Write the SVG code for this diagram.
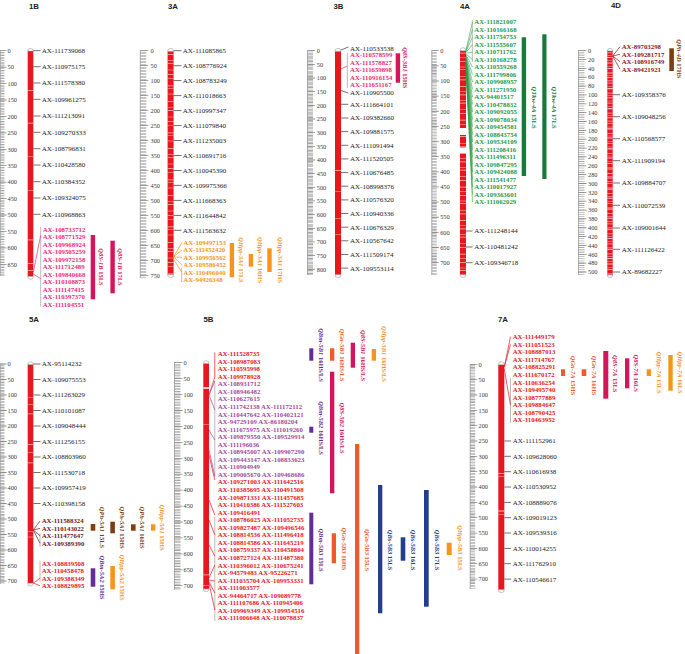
<svg xmlns="http://www.w3.org/2000/svg" width="685" height="654" viewBox="0 0 685 654">
<style>
text{font-family:"Liberation Serif","Times New Roman",serif}
.t{font-family:"Liberation Sans",Arial,sans-serif;font-weight:bold;font-size:7.8px;fill:#222}
.r{font-size:6.3px;fill:#3a3a3a}
.m{font-size:7px;fill:#222}
.b{font-size:6.8px;font-weight:bold}
.q{font-size:6.5px;font-weight:bold;text-anchor:middle}
.q tspan{font-style:italic}
.rb{stroke:#8c8c8c;stroke-width:0.7;fill:none}
.tk{stroke:#8c8c8c;fill:none}
.chr{fill:#E8161E}
.cap{fill:#fff;stroke:#8a8a8a;stroke-width:0.5}
.st{fill:none;stroke:#fff;stroke-opacity:0.75}
.lk{stroke:#333;stroke-width:0.7;fill:none}
.gb{stroke:#aaa;stroke-width:0.8;fill:none}
.pk{fill:#EE2A7B}.cr{fill:#D6145C}.or{fill:#F7941D}.og{fill:#F05A28}.pu{fill:#652D90}.lp{fill:#A24A9E}.nv{fill:#233E8F}.gr{fill:#2A9A48}.gd{fill:#187A3A}.bn{fill:#7B3F12}.mr{fill:#8B1A1A}.dm{fill:#6B2020}.rd{fill:#E8161E}
</style>

<!-- titles -->
<g id="titles">
<text class="t" x="29" y="8.5">1B</text>
<text class="t" x="168" y="8.5">3A</text>
<text class="t" x="333.5" y="8.5">3B</text>
<text class="t" x="460" y="8.5">4A</text>
<text class="t" x="611" y="8">4D</text>
<text class="t" x="29" y="321.5">5A</text>
<text class="t" x="203.5" y="321.5">5B</text>
<text class="t" x="498" y="321.5">7A</text>
</g>

<!-- rulers -->
<g id="ruler-1B">
<line class="rb" x1="0.3" y1="50.3" x2="0.3" y2="276"/>
<line class="tk" x1="2.4" y1="50.4" x2="2.4" y2="276" stroke-width="4.2" stroke-dasharray="0.6 1.043"/>
<line class="tk" x1="3.4" y1="50.3" x2="3.4" y2="276" stroke-width="6.2" stroke-dasharray="0.8 15.63"/>
<g class="r"><text x="7.5" y="52.9">0</text><text x="7.5" y="69.3">50</text><text x="7.5" y="85.8">100</text><text x="7.5" y="102.2">150</text><text x="7.5" y="118.6">200</text><text x="7.5" y="135.1">250</text><text x="7.5" y="151.5">300</text><text x="7.5" y="167.9">350</text><text x="7.5" y="184.3">400</text><text x="7.5" y="200.8">450</text><text x="7.5" y="217.2">500</text><text x="7.5" y="233.6">550</text><text x="7.5" y="250.1">600</text><text x="7.5" y="266.5">650</text></g>
</g>
<g id="ruler-3A">
<line class="rb" x1="140.3" y1="50.3" x2="140.3" y2="278"/>
<line class="tk" x1="143.3" y1="50.4" x2="143.3" y2="278" stroke-width="6" stroke-dasharray="0.6 0.9"/>
<line class="tk" x1="144.3" y1="50.3" x2="144.3" y2="278" stroke-width="8" stroke-dasharray="0.8 14.2"/>
<g class="r"><text x="150.5" y="52.9">0</text><text x="150.5" y="67.9">50</text><text x="150.5" y="82.9">100</text><text x="150.5" y="97.9">150</text><text x="150.5" y="112.9">200</text><text x="150.5" y="127.9">250</text><text x="150.5" y="142.9">300</text><text x="150.5" y="157.9">350</text><text x="150.5" y="172.9">400</text><text x="150.5" y="187.9">450</text><text x="150.5" y="202.9">500</text><text x="150.5" y="217.9">550</text><text x="150.5" y="232.9">600</text><text x="150.5" y="247.9">650</text><text x="150.5" y="262.9">700</text><text x="150.5" y="277.9">750</text></g>
</g>
<g id="ruler-3B">
<line class="rb" x1="307.5" y1="50.3" x2="307.5" y2="275"/>
<line class="tk" x1="310.25" y1="50.4" x2="310.25" y2="275" stroke-width="5.5" stroke-dasharray="0.6 0.766"/>
<line class="tk" x1="311.25" y1="50.3" x2="311.25" y2="275" stroke-width="7.5" stroke-dasharray="0.8 12.86"/>
<g class="r"><text x="316.8" y="52.9">0</text><text x="316.8" y="66.6">50</text><text x="316.8" y="80.2">100</text><text x="316.8" y="93.9">150</text><text x="316.8" y="107.5">200</text><text x="316.8" y="121.2">250</text><text x="316.8" y="134.9">300</text><text x="316.8" y="148.5">350</text><text x="316.8" y="162.2">400</text><text x="316.8" y="175.8">450</text><text x="316.8" y="189.5">500</text><text x="316.8" y="203.2">550</text><text x="316.8" y="216.8">600</text><text x="316.8" y="230.5">650</text><text x="316.8" y="244.1">700</text><text x="316.8" y="257.8">750</text><text x="316.8" y="271.5">800</text></g>
</g>
<g id="ruler-4A">
<line class="rb" x1="431.8" y1="50.3" x2="431.8" y2="275"/>
<line class="tk" x1="434.3" y1="50.4" x2="434.3" y2="275" stroke-width="5" stroke-dasharray="0.6 0.914"/>
<line class="tk" x1="435.3" y1="50.3" x2="435.3" y2="275" stroke-width="7" stroke-dasharray="0.8 14.34"/>
<g class="r"><text x="440.2" y="52.9">0</text><text x="440.2" y="68">50</text><text x="440.2" y="83.2">100</text><text x="440.2" y="98.3">150</text><text x="440.2" y="113.5">200</text><text x="440.2" y="128.6">250</text><text x="440.2" y="143.7">300</text><text x="440.2" y="158.9">350</text><text x="440.2" y="174">400</text><text x="440.2" y="189.2">450</text><text x="440.2" y="204.3">500</text><text x="440.2" y="219.4">550</text><text x="440.2" y="234.6">600</text><text x="440.2" y="249.7">650</text><text x="440.2" y="264.9">700</text></g>
</g>
<g id="ruler-4D">
<line class="rb" x1="578.5" y1="50.3" x2="578.5" y2="275"/>
<line class="tk" x1="581.5" y1="50.4" x2="581.5" y2="275" stroke-width="6" stroke-dasharray="0.6 1.613"/>
<line class="tk" x1="582.5" y1="50.3" x2="582.5" y2="275" stroke-width="8" stroke-dasharray="0.8 8.052"/>
<g class="r"><text x="588" y="52.9">0</text><text x="588" y="61.75">20</text><text x="588" y="70.6">40</text><text x="588" y="79.46">60</text><text x="588" y="88.31">80</text><text x="588" y="97.16">100</text><text x="588" y="106.01">120</text><text x="588" y="114.86">140</text><text x="588" y="123.72">160</text><text x="588" y="132.57">180</text><text x="588" y="141.42">200</text><text x="588" y="150.27">220</text><text x="588" y="159.12">240</text><text x="588" y="167.98">260</text><text x="588" y="176.83">280</text><text x="588" y="185.68">300</text><text x="588" y="194.53">320</text><text x="588" y="203.38">340</text><text x="588" y="212.24">360</text><text x="588" y="221.09">380</text><text x="588" y="229.94">400</text><text x="588" y="238.79">420</text><text x="588" y="247.64">440</text><text x="588" y="256.5">460</text><text x="588" y="265.35">480</text><text x="588" y="274.2">500</text></g>
</g>
<g id="ruler-5A">
<line class="rb" x1="0.3" y1="363.6" x2="0.3" y2="584"/>
<line class="tk" x1="2.4" y1="363.7" x2="2.4" y2="584" stroke-width="4.2" stroke-dasharray="0.6 0.95"/>
<line class="tk" x1="3.4" y1="363.6" x2="3.4" y2="584" stroke-width="6.2" stroke-dasharray="0.8 14.7"/>
<g class="r"><text x="7.5" y="366.2">0</text><text x="7.5" y="381.7">50</text><text x="7.5" y="397.2">100</text><text x="7.5" y="412.7">150</text><text x="7.5" y="428.2">200</text><text x="7.5" y="443.7">250</text><text x="7.5" y="459.2">300</text><text x="7.5" y="474.7">350</text><text x="7.5" y="490.2">400</text><text x="7.5" y="505.7">450</text><text x="7.5" y="521.2">500</text><text x="7.5" y="536.7">550</text><text x="7.5" y="552.2">600</text><text x="7.5" y="567.7">650</text><text x="7.5" y="583.2">700</text></g>
</g>
<g id="ruler-5B">
<line class="rb" x1="174.5" y1="362.3" x2="174.5" y2="590"/>
<line class="tk" x1="177.5" y1="362.4" x2="177.5" y2="590" stroke-width="6" stroke-dasharray="0.6 0.993"/>
<line class="tk" x1="178.5" y1="362.3" x2="178.5" y2="590" stroke-width="8" stroke-dasharray="0.8 15.13"/>
<g class="r"><text x="183.5" y="364.9">0</text><text x="183.5" y="380.8">50</text><text x="183.5" y="396.8">100</text><text x="183.5" y="412.7">150</text><text x="183.5" y="428.6">200</text><text x="183.5" y="444.6">250</text><text x="183.5" y="460.5">300</text><text x="183.5" y="476.4">350</text><text x="183.5" y="492.3">400</text><text x="183.5" y="508.3">450</text><text x="183.5" y="524.2">500</text><text x="183.5" y="540.1">550</text><text x="183.5" y="556.1">600</text><text x="183.5" y="572">650</text><text x="183.5" y="587.9">700</text></g>
</g>
<g id="ruler-7A">
<line class="rb" x1="470.2" y1="363.9" x2="470.2" y2="589"/>
<line class="tk" x1="472.7" y1="364" x2="472.7" y2="589" stroke-width="5" stroke-dasharray="0.6 0.934"/>
<line class="tk" x1="473.7" y1="363.9" x2="473.7" y2="589" stroke-width="7" stroke-dasharray="0.8 14.54"/>
<g class="r"><text x="478.5" y="366.5">0</text><text x="478.5" y="381.8">50</text><text x="478.5" y="397.2">100</text><text x="478.5" y="412.5">150</text><text x="478.5" y="427.9">200</text><text x="478.5" y="443.2">250</text><text x="478.5" y="458.5">300</text><text x="478.5" y="473.9">350</text><text x="478.5" y="489.2">400</text><text x="478.5" y="504.6">450</text><text x="478.5" y="519.9">500</text><text x="478.5" y="535.2">550</text><text x="478.5" y="550.6">600</text><text x="478.5" y="565.9">650</text><text x="478.5" y="581.3">700</text></g>
</g>

<!-- chromosomes -->
<g id="chr-1B">
<rect class="chr" x="27.7" y="51.1" width="5.6" height="225.4"/>
<line class="st" x1="30.5" y1="51.1" x2="30.5" y2="276.5" stroke-width="5.6" stroke-dasharray="0 39 0.7 32 0.7 33 0.5 33 0.6 49 0.7 23 0.8 6 0.7 300"/>
<path class="cap" d="M27.7 51.1a2.8 2.8 0 0 1 5.6 0z"/>
<path class="cap" d="M27.7 276.5a2.8 2.8 0 0 0 5.6 0z"/>
</g>
<g id="chr-3A">
<rect class="chr" x="167.6" y="51.3" width="6" height="223.4"/>
<line class="st" x1="170.6" y1="51.3" x2="170.6" y2="274.7" stroke-width="6" stroke-dasharray="0 3 0.6 5 0.5 2.5 0.8 6 0.5 4 0.7 3 0.5 7 0.8 2 0.5 5 0.6 4"/>
<path class="cap" d="M167.6 51.3a3 3 0 0 1 6 0z"/>
<path class="cap" d="M167.6 274.7a3 3 0 0 0 6 0z"/>
</g>
<g id="chr-3B">
<rect class="chr" x="335" y="51.3" width="6" height="223.4"/>
<line class="st" x1="338" y1="51.3" x2="338" y2="274.7" stroke-width="6" stroke-dasharray="0 119 0.6 20 0.5 27 0.6 15 0.5 300"/>
<path class="cap" d="M335 51.3a3 3 0 0 1 6 0z"/>
<path class="cap" d="M335 274.7a3 3 0 0 0 6 0z"/>
</g>
<g id="chr-4A">
<rect class="chr" x="460" y="50.7" width="6" height="224"/>
<line class="st" x1="463" y1="50.7" x2="463" y2="274.7" stroke-width="6" stroke-dasharray="0 2 0.7 4 0.5 3 0.9 5 0.5 2 0.6 6 0.5 3 0.8 4"/>
<rect x="460" y="128" width="6" height="7" fill="#fff"/>
<rect x="460" y="147.5" width="6" height="5.5" fill="#fff"/>
<path class="cap" d="M460 50.7a3 3 0 0 1 6 0z"/>
<path class="cap" d="M460 274.7a3 3 0 0 0 6 0z"/>
</g>
<g id="chr-4D">
<rect class="chr" x="607.3" y="51" width="5.4" height="224"/>
<line x1="610" y1="51" x2="610" y2="275" stroke="#fde" stroke-opacity="0.8" stroke-width="5.4" stroke-dasharray="0 1.5 0.8 2 0.5 1.2 1 2.5 0.6 1.5 0.8 3 0.5 1 1.2 2"/>
<path class="cap" d="M607.3 51a2.7 2.7 0 0 1 5.4 0z"/>
<path class="cap" d="M607.3 275a2.7 2.7 0 0 0 5.4 0z"/>
</g>
<g id="chr-5A">
<rect class="chr" x="27.7" y="364.5" width="5.6" height="218.7"/>
<line class="st" x1="30.5" y1="364.5" x2="30.5" y2="583.2" stroke-width="5.6" stroke-dasharray="0 33 0.6 6 0.5 9 0.7 30 0.6 7 0.5 10 0.8 68 0.6 5 0.5 400"/>
<path class="cap" d="M27.7 364.5a2.8 2.8 0 0 1 5.6 0z"/>
<path class="cap" d="M27.7 583.2a2.8 2.8 0 0 0 5.6 0z"/>
</g>
<g id="chr-5B">
<rect class="chr" x="203.3" y="363.5" width="5.7" height="225.4"/>
<line class="st" x1="206.15" y1="363.5" x2="206.15" y2="588.9" stroke-width="5.7" stroke-dasharray="0 23.5 2 35 0.6 150 0.6 10 0.6 300"/>
<path class="cap" d="M203.3 363.5a2.85 2.85 0 0 1 5.7 0z"/>
<path class="cap" d="M203.3 588.9a2.85 2.85 0 0 0 5.7 0z"/>
</g>
<g id="chr-7A">
<rect class="chr" x="498.3" y="364.7" width="6" height="225"/>
<line class="st" x1="501.3" y1="364.7" x2="501.3" y2="589.7" stroke-width="6" stroke-dasharray="0 108.5 0.8 2 0.6 34 0.8 2.5 0.6 300"/>
<path class="cap" d="M498.3 364.7a3 3 0 0 1 6 0z"/>
<path class="cap" d="M498.3 589.7a3 3 0 0 0 6 0z"/>
</g>

<!-- connectors -->
<g id="connectors">
<path class="lk" d="M33.3 50.7H40.5M33.3 66.7H40.5M33.3 83H40.5M33.3 99.3H40.5M33.3 116H40.5M33.3 132.3H40.5M33.3 148.7H40.5M33.3 165H40.5M33.3 181.7H40.5M33.3 198H40.5M33.3 214.3H40.5"/>
<path class="gb" d="M40.7 226.7V306.7"/>
<path d="M33.3 272L40.7 235.3M33.3 274L40.7 278.7" stroke="#EE2A7B" stroke-width="0.7" fill="none"/>

<path class="lk" d="M173.6 50.7H181.5M173.6 65.7H181.5M173.6 80.6H181.5M173.6 95.6H181.5M173.6 110.6H181.5M173.6 125.6H181.5M173.6 140.5H181.5M173.6 155.5H181.5M173.6 170.5H181.5M173.6 185.4H181.5M173.6 200.4H181.5M173.6 215.4H181.5M173.6 230.3H181.5"/>
<path class="gb" d="M181.7 268V282"/>
<path d="M173.6 257L182 242.3M173.6 257L182 249.8M173.6 257L182 257.3M173.6 257L182 264.8M173.6 259L181.7 272.3" stroke="#F7941D" stroke-width="0.7" fill="none"/>

<path class="lk" d="M341 50L348.3 47M341 90.5L348.3 93M341 104.3H348.3M341 118H348.3M341 131.6H348.3M341 145.3H348.3M341 158.9H348.3M341 172.6H348.3M341 186.2H348.3M341 199.9H348.3M341 213.5H348.3M341 227.2H348.3M341 240.8H348.3M341 254.5H348.3M341 268.1H348.3"/>
<path class="gb" d="M347.3 53V88"/>
<path d="M341 69L347.3 66" stroke="#EE2A7B" stroke-width="0.7" fill="none"/>

<path class="gb" d="M472.3 20V62"/>
<path d="M466 50L472.5 22M466 50.8L472.5 29.5M466 51.6L472.5 37M466 52.4L472.5 44.5M466 53.2L472.5 52M466 54L472.5 59.5M466 54.8L472.5 67M466 55.6L472.5 74.5M466 56.4L472.5 82M466 57.2L472.5 89.5M466 58L472.5 97M466 58.8L472.5 104.5M466 59.6L472.5 112M466 60.4L472.5 119.5M466 61.2L472.5 127M466 62L472.5 134.5M466 62.8L472.5 142M466 63.6L472.5 149.5M466 64.4L472.5 157M466 65.2L472.5 164.5M466 66L472.5 172M466 66.8L472.5 179.5M466 67.6L472.5 187M466 68.4L472.5 194.5M466 69.2L472.5 202" stroke="#2A9A48" stroke-width="0.55" fill="none"/>
<path class="lk" d="M466 231H472.5M466 247H472.5M466 262.7H472.5"/>

<path d="M612.7 56L620 46.7M612.7 56L620 54.3M612.7 56L620 61.7M612.7 56L620 69.3" stroke="#8B1A1A" stroke-width="0.7" fill="none"/>
<path class="lk" d="M612.7 94.7H620M612.7 116.7H620M612.7 138.7H620M612.7 160.7H620M612.7 183H620M612.7 205.3H620M612.7 228H620M612.7 249.3H620M612.7 272H620"/>

<path class="lk" d="M33.3 364H40.5M33.3 379.5H40.5M33.3 395H40.5M33.3 410.5H40.5M33.3 426H40.5M33.3 441.5H40.5M33.3 457H40.5M33.3 472.5H40.5M33.3 488H40.5M33.3 503.5H40.5"/>
<path class="gb" d="M40 533V547M40 560.7V581.7"/>
<path d="M33.3 530L40 521M33.3 530L40 528.4M33.3 530L40 535.8M33.3 530L40 543.2" stroke="#6B2020" stroke-width="0.7" fill="none"/>
<path d="M33.3 583L40 578.3M33.3 583L40 585.7" stroke="#E8161E" stroke-width="0.7" fill="none"/>

<path class="gb" d="M214.8 381V477M214.8 517V621"/>
<path d="M214.8 352.5V377L209 395" stroke="#E8161E" stroke-width="0.7" fill="none"/>
<path d="M209 395L214.8 381M209 395L214.8 410M209 430L214.8 440M209 450L214.8 476" stroke="#A24A9E" stroke-width="0.7" fill="none"/>
<path d="M209 455L214.8 480M209 500L214.8 515M209 520L214.8 535M209 545L214.8 556M209 578L214.8 565M209 580L214.8 581M209 582L214.8 593M209 583L214.8 610" stroke="#E8161E" stroke-width="0.7" fill="none"/>

<path class="gb" d="M510.5 378V423"/>
<path d="M504.3 367L510.5 336.7M504.3 367L510.5 344.3M504.3 369L510.5 405" stroke="#E8161E" stroke-width="0.7" fill="none"/>
<path class="lk" d="M504.3 441H511M504.3 456.3H511M504.3 471.7H511M504.3 487H511M504.3 502.4H511M504.3 517.7H511M504.3 533H511M504.3 548.4H511M504.3 563.7H511M504.3 579.1H511"/>
</g>

<!-- marker labels -->
<g id="markers-1B">
<g class="m"><text x="41.7" y="53.1">AX-111739068</text><text x="41.7" y="69.1">AX-110975175</text><text x="41.7" y="85.4">AX-111578380</text><text x="41.7" y="101.7">AX-109961275</text><text x="41.7" y="118.4">AX-111213091</text><text x="41.7" y="134.7">AX-109270333</text><text x="41.7" y="151.1">AX-108796831</text><text x="41.7" y="167.4">AX-110428580</text><text x="41.7" y="184.1">AX-110384352</text><text x="41.7" y="200.4">AX-109324075</text><text x="41.7" y="216.7">AX-110968863</text></g>
<g class="b pk"><text x="42.7" y="231.7">AX-108733712</text><text x="42.7" y="239.2">AX-108771529</text><text x="42.7" y="246.7">AX-109968924</text><text x="42.7" y="254.2">AX-109505259</text><text x="42.7" y="261.7">AX-109972158</text><text x="42.7" y="269.2">AX-111712489</text><text x="42.7" y="276.7">AX-109840668</text><text x="42.7" y="284.2">AX-110108873</text><text x="42.7" y="291.7">AX-111147415</text><text x="42.7" y="299.2">AX-110397370</text><text x="42.7" y="306.7">AX-111104551</text></g>
</g>
<g id="markers-3A">
<g class="m"><text x="182.7" y="53.1">AX-111085865</text><text x="182.7" y="68.1">AX-108776924</text><text x="182.7" y="83">AX-108783249</text><text x="182.7" y="98">AX-111018663</text><text x="182.7" y="113">AX-110997347</text><text x="182.7" y="128">AX-111079840</text><text x="182.7" y="142.9">AX-111235003</text><text x="182.7" y="157.9">AX-110691716</text><text x="182.7" y="172.9">AX-110045390</text><text x="182.7" y="187.8">AX-109975366</text><text x="182.7" y="202.8">AX-111668363</text><text x="182.7" y="217.8">AX-111644842</text><text x="182.7" y="232.7">AX-111563632</text></g>
<g class="b or"><text x="183.3" y="244.7">AX-109497153</text><text x="183.3" y="252.2">AX-111452420</text><text x="183.3" y="259.7">AX-109956562</text><text x="183.3" y="267.2">AX-109586452</text><text x="183.3" y="274.7">AX-110496040</text><text x="183.3" y="282.2">AX-94926348</text></g>
</g>
<g id="markers-3B">
<g class="m"><text x="350" y="50.7">AX-110533538</text><text x="350" y="94.7">AX-110905500</text><text x="350" y="106.7">AX-111664101</text><text x="350" y="120.4">AX-109382660</text><text x="350" y="134">AX-109881575</text><text x="350" y="147.7">AX-111091494</text><text x="350" y="161.3">AX-111520505</text><text x="350" y="175">AX-110676485</text><text x="350" y="188.6">AX-108998376</text><text x="350" y="202.3">AX-110576320</text><text x="350" y="215.9">AX-110940336</text><text x="350" y="229.6">AX-110676329</text><text x="350" y="243.2">AX-110567642</text><text x="350" y="256.9">AX-111509174</text><text x="350" y="270.5">AX-109553114</text></g>
<g class="b pk"><text x="350" y="57.4">AX-110578599</text><text x="350" y="64.9">AX-111578827</text><text x="350" y="72.4">AX-111659898</text><text x="350" y="79.9">AX-110916154</text><text x="350" y="87.4">AX-111651167</text></g>
</g>
<g id="markers-4A">
<g class="b gr"><text x="474.3" y="24.4">AX-111821007</text><text x="474.3" y="31.9">AX-110166168</text><text x="474.3" y="39.4">AX-111754753</text><text x="474.3" y="46.9">AX-111555607</text><text x="474.3" y="54.4">AX-110711762</text><text x="474.3" y="61.9">AX-110168278</text><text x="474.3" y="69.4">AX-110559268</text><text x="474.3" y="76.9">AX-111799806</text><text x="474.3" y="84.4">AX-109908957</text><text x="474.3" y="91.9">AX-111271950</text><text x="474.3" y="99.4">AX-94401517</text><text x="474.3" y="106.9">AX-110478832</text><text x="474.3" y="114.4">AX-109092055</text><text x="474.3" y="121.9">AX-109078034</text><text x="474.3" y="129.4">AX-109454581</text><text x="474.3" y="136.9">AX-108843754</text><text x="474.3" y="144.4">AX-109534109</text><text x="474.3" y="151.9">AX-111208416</text><text x="474.3" y="159.4">AX-111496311</text><text x="474.3" y="166.9">AX-109847295</text><text x="474.3" y="174.4">AX-109424088</text><text x="474.3" y="181.9">AX-111541477</text><text x="474.3" y="189.4">AX-110017927</text><text x="474.3" y="196.9">AX-109363601</text><text x="474.3" y="204.4">AX-111062029</text></g>
<g class="m"><text x="474.3" y="233.4">AX-111248144</text><text x="474.3" y="249.4">AX-110481242</text><text x="474.3" y="265.1">AX-109346718</text></g>
</g>
<g id="markers-4D">
<g class="b mr"><text x="621.7" y="49.1">AX-89703298</text><text x="621.7" y="56.7">AX-109281717</text><text x="621.7" y="64.1">AX-108916749</text><text x="621.7" y="71.7">AX-89421921</text></g>
<g class="m"><text x="621.7" y="97.1">AX-109358376</text><text x="621.7" y="119.1">AX-109048256</text><text x="621.7" y="141.1">AX-110568577</text><text x="621.7" y="163.1">AX-111909194</text><text x="621.7" y="185.4">AX-109884707</text><text x="621.7" y="207.7">AX-110072539</text><text x="621.7" y="230.4">AX-109001644</text><text x="621.7" y="251.7">AX-111126422</text><text x="621.7" y="274.4">AX-89682227</text></g>
</g>
<g id="markers-5A">
<g class="m"><text x="41.7" y="366.4">AX-95114232</text><text x="41.7" y="381.9">AX-109075553</text><text x="41.7" y="397.4">AX-111263029</text><text x="41.7" y="412.9">AX-110101087</text><text x="41.7" y="428.4">AX-109048444</text><text x="41.7" y="443.9">AX-111256155</text><text x="41.7" y="459.4">AX-108803960</text><text x="41.7" y="474.9">AX-111530718</text><text x="41.7" y="490.4">AX-109957419</text><text x="41.7" y="505.9">AX-110398158</text></g>
<g class="b dm"><text x="41.7" y="523.4">AX-111588324</text><text x="41.7" y="530.8">AX-110143022</text><text x="41.7" y="538.2">AX-111477647</text><text x="41.7" y="545.6">AX-109389390</text></g>
<g class="b rd"><text x="41.7" y="565.7">AX-108839508</text><text x="41.7" y="573.1">AX-110458478</text><text x="41.7" y="580.7">AX-109388349</text><text x="41.7" y="588.1">AX-108829895</text></g>
</g>
<g id="markers-5B">
<g class="b rd"><text x="217.7" y="356.1">AX-111528735</text><text x="217.7" y="363.65">AX-108987083</text><text x="217.7" y="371.2">AX-110595998</text><text x="217.7" y="378.75">AX-109978928</text></g>
<g class="b lp"><text x="217.7" y="386.3">AX-108931712</text><text x="217.7" y="393.85">AX-108946482</text><text x="217.7" y="401.4">AX-110627615</text><text x="217.7" y="408.95">AX-111742138 AX-111172112</text><text x="217.7" y="416.5">AX-110447642 AX-110402121</text><text x="217.7" y="424.05">AX-94729169 AX-86180204</text><text x="217.7" y="431.6">AX-111675975 AX-111019260</text><text x="217.7" y="439.15">AX-109879550 AX-109529914</text><text x="217.7" y="446.7">AX-111196036</text><text x="217.7" y="454.25">AX-108945007 AX-109907290</text><text x="217.7" y="461.8">AX-109443147 AX-108833623</text><text x="217.7" y="469.35">AX-110904949</text><text x="217.7" y="476.9">AX-109005670 AX-109468686</text></g>
<g class="b rd"><text x="217.7" y="484.45">AX-109271003 AX-111642516</text><text x="217.7" y="492">AX-110385695 AX-110491508</text><text x="217.7" y="499.55">AX-109871331 AX-111457685</text><text x="217.7" y="507.1">AX-110410386 AX-111527603</text><text x="217.7" y="514.65">AX-109416491</text><text x="217.7" y="522.2">AX-108786025 AX-111052735</text><text x="217.7" y="529.75">AX-109827487 AX-109496546</text><text x="217.7" y="537.3">AX-108814536 AX-111496418</text><text x="217.7" y="544.85">AX-108814586 AX-111645219</text><text x="217.7" y="552.4">AX-108759337 AX-110458804</text><text x="217.7" y="559.95">AX-108727124 AX-111487380</text><text x="217.7" y="567.5">AX-110396012 AX-110675241</text><text x="217.7" y="575.05">AX-94579483 AX-95226271</text><text x="217.7" y="582.6">AX-111035704 AX-109953331</text><text x="217.7" y="590.15">AX-111003577</text><text x="217.7" y="597.7">AX-94464717 AX-109089778</text><text x="217.7" y="605.25">AX-111107686 AX-110945406</text><text x="217.7" y="612.8">AX-109969349 AX-109954516</text><text x="217.7" y="620.35">AX-111006648 AX-110078837</text></g>
</g>
<g id="markers-7A">
<g class="b rd"><text x="512.7" y="339.1">AX-111449179</text><text x="512.7" y="346.7">AX-111051523</text><text x="512.7" y="354.2">AX-108887013</text><text x="512.7" y="361.8">AX-111714767</text><text x="512.7" y="369.4">AX-108825291</text><text x="512.7" y="376.9">AX-111670172</text><text x="512.7" y="384.5">AX-110636254</text><text x="512.7" y="392.1">AX-109495740</text><text x="512.7" y="399.7">AX-108777889</text><text x="512.7" y="407.2">AX-109884647</text><text x="512.7" y="414.8">AX-108790425</text><text x="512.7" y="422.4">AX-110463952</text></g>
<g class="m"><text x="512.7" y="443.4">AX-111152961</text><text x="512.7" y="458.7">AX-109628060</text><text x="512.7" y="474.1">AX-110616938</text><text x="512.7" y="489.4">AX-110530952</text><text x="512.7" y="504.8">AX-108889076</text><text x="512.7" y="520.1">AX-109019123</text><text x="512.7" y="535.4">AX-109539316</text><text x="512.7" y="550.8">AX-110014255</text><text x="512.7" y="566.1">AX-111762910</text><text x="512.7" y="581.5">AX-110546617</text></g>
</g>

<!-- QTL -->
<g id="qtl-1B">
<g id="Q8S-1B-15LS" class="cr"><rect x="90.7" y="235" width="4.4" height="64.3"/><text class="q" transform="translate(99.3 267) rotate(90)"><tspan>Q8S-1B</tspan> 15LS</text></g>
<g id="Q8S-1B-17LS" class="cr"><rect x="110.4" y="240.7" width="4.4" height="52.6"/><text class="q" transform="translate(117.8 267) rotate(90)"><tspan>Q8S-1B</tspan> 17LS</text></g>
</g>
<g id="qtl-3A">
<g id="QHpp-3A1-17LS" class="or"><rect x="229.7" y="243" width="4.4" height="34.3"/><text class="q" transform="translate(239.3 260) rotate(90)"><tspan>QHpp-3A1</tspan> 17LS</text></g>
<g id="QHpp-3A1-16HS" class="or"><rect x="248.7" y="254" width="4.4" height="12.7"/><text class="q" transform="translate(258.3 260) rotate(90)"><tspan>QHpp-3A1</tspan> 16HS</text></g>
<g id="QHpp-3A1-17HS" class="or"><rect x="267.3" y="248.3" width="4.4" height="23.7"/><text class="q" transform="translate(277.5 260) rotate(90)"><tspan>QHpp-3A1</tspan> 17HS</text></g>
</g>
<g id="qtl-3B">
<g id="Q8S-3B1-15HS" class="cr"><rect x="395.7" y="53.3" width="4.4" height="29.4"/><text class="q" transform="translate(403.2 67.8) rotate(90)"><tspan>Q8S-3B1</tspan> 15HS</text></g>
</g>
<g id="qtl-4A">
<g id="QTkw-4A-15LS" class="gd"><rect x="521.7" y="37.3" width="4.4" height="138.7"/><text class="q" transform="translate(531.5 107.5) rotate(90)"><tspan>QTkw-4A</tspan> 15LS</text></g>
<g id="QTkw-4A-17LS" class="gd"><rect x="542.3" y="34.3" width="4.2" height="144.7"/><text class="q" transform="translate(552.2 107.5) rotate(90)"><tspan>QTkw-4A</tspan> 17LS</text></g>
</g>
<g id="qtl-4D">
<g id="QPh-4D-17HS" class="bn"><rect x="669.3" y="48.3" width="4.6" height="22.7"/><text class="q" transform="translate(677.2 58.8) rotate(90)"><tspan>QPh-4D</tspan> 17HS</text></g>
</g>
<g id="qtl-5A">
<g id="QPh-5A1-15LS" class="bn"><rect x="90.7" y="524" width="4.6" height="6.7"/><text class="q" transform="translate(99.6 527.5) rotate(90)"><tspan>QPh-5A1</tspan> 15LS</text></g>
<g id="QPh-5A1-15HS" class="bn"><rect x="110.3" y="521.7" width="4.6" height="11.6"/><text class="q" transform="translate(119.6 527.5) rotate(90)"><tspan>QPh-5A1</tspan> 15HS</text></g>
<g id="QPh-5A1-16HS" class="bn"><rect x="131" y="524.3" width="4.6" height="6.4"/><text class="q" transform="translate(140.4 527.5) rotate(90)"><tspan>QPh-5A1</tspan> 16HS</text></g>
<g id="QHpp-5A1-15HS" class="or"><rect x="151" y="524.3" width="4.4" height="6.4"/><text class="q" transform="translate(160.2 527.5) rotate(90)"><tspan>QHpp-5A1</tspan> 15HS</text></g>
<g id="QBm-5A2-15HS" class="pu"><rect x="90.7" y="568.3" width="4.6" height="18.4"/><text class="q" transform="translate(99.6 577.5) rotate(90)"><tspan>QBm-5A2</tspan> 15HS</text></g>
<g id="QHpp-5A2-15HS" class="or"><rect x="110.3" y="566" width="4.6" height="23.3"/><text class="q" transform="translate(120 577.5) rotate(90)"><tspan>QHpp-5A2</tspan> 15HS</text></g>
</g>
<g id="qtl-5B">
<g id="QBm-5B1" class="pu"><rect x="309.3" y="348.3" width="4" height="12.4"/><text class="q" transform="translate(318.8 355) rotate(90)"><tspan>QBm-5B1</tspan> 16HS/LS</text></g>
<g id="QGn-5B1" class="og"><rect x="330" y="348.3" width="4.3" height="12.4"/><text class="q" transform="translate(339.8 355) rotate(90)"><tspan>QGn-5B1</tspan> 16HS/LS</text></g>
<g id="Q8S-5B1" class="cr"><rect x="350.7" y="342.7" width="4.3" height="25"/><text class="q" transform="translate(360.5 355.5) rotate(90)"><tspan>Q8S-5B1</tspan> 16HS/LS</text></g>
<g id="QHpp-5B1" class="or"><rect x="371.7" y="349" width="4.3" height="11.7"/><text class="q" transform="translate(381.8 354) rotate(90)"><tspan>QHpp-5B1</tspan> 16HS/LS</text></g>
<g id="QBm-5B2" class="pu"><rect x="309.3" y="426.7" width="4" height="6"/><text class="q" transform="translate(318.8 428) rotate(90)"><tspan>QBm-5B2</tspan> 16HS/LS</text></g>
<g id="Q8S-5B2" class="cr"><rect x="330" y="371.7" width="4.3" height="121.6"/><text class="q" transform="translate(339.8 428) rotate(90)"><tspan>Q8S-5B2</tspan> 16HS/LS</text></g>
<g id="QBm-5B3-15LS" class="pu"><rect x="309.3" y="512.7" width="4" height="71.6"/><text class="q" transform="translate(318.8 550) rotate(90)"><tspan>QBm-5B3</tspan> 15LS</text></g>
<g id="QGn-5B3-16HS" class="og"><rect x="331.7" y="533.3" width="4.3" height="30"/><text class="q" transform="translate(341.5 549) rotate(90)"><tspan>QGn-5B3</tspan> 16HS</text></g>
<g id="QGn-5B3-15LS" class="og"><rect x="355" y="444" width="4.3" height="210"/><text class="q" transform="translate(364.8 550) rotate(90)"><tspan>QGn-5B3</tspan> 15LS</text></g>
<g id="QBs-5B3-15LS" class="nv"><rect x="378" y="485" width="4.3" height="128.3"/><text class="q" transform="translate(387.8 550) rotate(90)"><tspan>QBs-5B3</tspan> 15LS</text></g>
<g id="QBs-5B3-16LS" class="nv"><rect x="400.7" y="537.3" width="4.6" height="23.4"/><text class="q" transform="translate(411.2 550) rotate(90)"><tspan>QBs-5B3</tspan> 16LS</text></g>
<g id="QBs-5B3-17LS" class="nv"><rect x="424" y="490" width="4.7" height="116.7"/><text class="q" transform="translate(434.5 550) rotate(90)"><tspan>QBs-5B3</tspan> 17LS</text></g>
<g id="QHpp-5B3-15LS" class="or"><rect x="446.7" y="542.7" width="5" height="12.3"/><text class="q" transform="translate(458 548) rotate(90)"><tspan>QHpp-5B3</tspan> 15LS</text></g>
</g>
<g id="qtl-7A">
<g id="QGn-7A-15HS" class="og"><rect x="561" y="369.3" width="4" height="6.7"/><text class="q" transform="translate(571 375.5) rotate(90)"><tspan>QGn-7A</tspan> 15HS</text></g>
<g id="QGn-7A-16HS" class="og"><rect x="581.7" y="369.3" width="4.6" height="6.7"/><text class="q" transform="translate(592 375.5) rotate(90)"><tspan>QGn-7A</tspan> 16HS</text></g>
<g id="Q8S-7A-15LS" class="cr"><rect x="603.3" y="351" width="5" height="47.7"/><text class="q" transform="translate(613 373.7) rotate(90)"><tspan>Q8S-7A</tspan> 15LS</text></g>
<g id="Q8S-7A-16LS" class="cr"><rect x="625" y="358.3" width="4.3" height="30"/><text class="q" transform="translate(634.3 373.3) rotate(90)"><tspan>Q8S-7A</tspan> 16LS</text></g>
<g id="QHpp-7A-15LS" class="or"><rect x="646.7" y="369.3" width="4.3" height="6.7"/><text class="q" transform="translate(657 372.5) rotate(90)"><tspan>QHpp-7A</tspan> 15LS</text></g>
<g id="QHpp-7A-16LS" class="or"><rect x="668.3" y="355" width="4.4" height="35.7"/><text class="q" transform="translate(678.3 372.5) rotate(90)"><tspan>QHpp-7A</tspan> 16LS</text></g>
</g>
</svg>
